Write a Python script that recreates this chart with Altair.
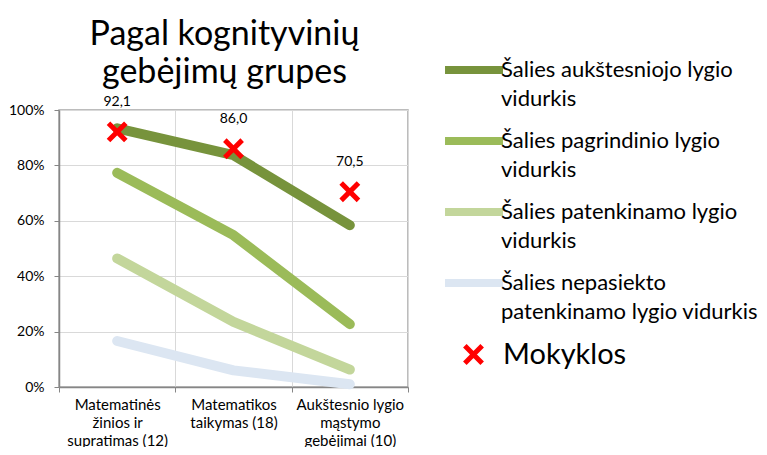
import altair as alt
import pandas as pd

categories = ["Matematinės žinios ir supratimas (12)",
              "Matematikos taikymas (18)",
              "Aukštesnio lygio mąstymo gebėjimai (10)"]
cat_lines = [["Matematinės", "žinios ir", "supratimas (12)"],
             ["Matematikos", "taikymas (18)"],
             ["Aukštesnio lygio", "mąstymo", "gebėjimai (10)"]]
series = ["Šalies aukštesniojo lygio vidurkis",
          "Šalies pagrindinio lygio vidurkis",
          "Šalies patenkinamo lygio vidurkis",
          "Šalies nepasiekto patenkinamo lygio vidurkis"]
series_lines = [["Šalies aukštesniojo lygio", "vidurkis"],
                ["Šalies pagrindinio lygio", "vidurkis"],
                ["Šalies patenkinamo lygio", "vidurkis"],
                ["Šalies nepasiekto", "patenkinamo lygio vidurkis"]]
values = [
    [93.4, 83.7, 58.4],
    [77.3, 54.8, 22.7],
    [46.4, 23.5, 6.3],
    [16.6, 6.0, 1.0],
]
colors = ["#77933C", "#9BBB59", "#C3D69B", "#DCE6F2"]
school_name = "Mokyklos"
school = [92.1, 86.0, 70.5]
school_labels = ["92,1", "86,0", "70,5"]

rows = []
for s, vals in zip(series, values):
    for c, v in zip(categories, vals):
        rows.append({"cat": c, "series": s, "value": v})
df_lines = pd.DataFrame(rows)
df_school = pd.DataFrame({"cat": categories, "value": school,
                          "label": school_labels, "group": school_name})

def js_map(keys, lines):
    parts = []
    for k, l in zip(keys, lines):
        arr = "[" + ",".join("'" + x + "'" for x in l) + "]"
        parts.append("datum.label == '" + k + "' ? " + arr)
    return " : ".join(parts) + " : datum.label"

font = "Lato"
xenc = alt.X("cat:N", sort=categories, title=None,
             scale=alt.Scale(type="band", paddingInner=0, paddingOuter=0),
             axis=alt.Axis(labelExpr=js_map(categories, cat_lines),
                           labelAngle=0, labelFontSize=15, labelFont=font,
                           labelColor="#000000", labelLineHeight=18,
                           labelPadding=5, tickBand="extent", tickSize=5,
                           tickColor="#868686", domainColor="#868686",
                           domainWidth=1.5, grid=True, gridColor="#D9D9D9",
                           labelLimit=200))
yenc = alt.Y("value:Q", title=None,
             scale=alt.Scale(domain=[0, 100], nice=False),
             axis=alt.Axis(values=list(range(0, 101, 10)),
                           labelExpr="datum.value % 20 == 0 ? datum.value + '%' : ''",
                           labelFontSize=14, labelFont=font, labelColor="#000000",
                           labelPadding=10, tickSize=5,
                           tickOpacity={"condition": {"test": "datum.value % 20 == 0", "value": 1}, "value": 0},
                           tickColor="#868686", domainColor="#868686", domainWidth=1.5,
                           grid=True, gridColor="#D9D9D9"))

x_path = "M-1,-1L1,1M1,-1L-1,1"
line_path = "M-1.26,0L1.26,0"

lines = alt.Chart(df_lines).mark_line(strokeWidth=10, strokeCap="round", strokeJoin="round").encode(
    x=xenc, y=yenc,
    color=alt.Color("series:N", sort=series,
                    scale=alt.Scale(domain=series, range=colors),
                    legend=alt.Legend(orient="none", legendX=388, legendY=-67, title=None,
                                      symbolType=line_path, symbolSize=2116,
                                      symbolStrokeWidth=8, labelFontSize=22, labelFont=font,
                                      labelColor="#000000", labelLimit=400, labelOffset=0,
                                      rowPadding=4, padding=0,
                                      labelExpr=js_map(series, series_lines))),
    detail="series:N",
)

points = alt.Chart(df_school).mark_point(shape=x_path, size=300, filled=False,
                                         stroke="#FF0000", strokeWidth=5, opacity=1).encode(
    x=alt.X("cat:N", sort=categories), y="value:Q",
    shape=alt.Shape("group:N", scale=alt.Scale(range=[x_path]),
                    legend=alt.Legend(orient="none", legendX=400, legendY=230, title=None,
                                      symbolSize=300, symbolStrokeColor="#FF0000",
                                      symbolFillColor="transparent", symbolStrokeWidth=5,
                                      labelFontSize=29, labelFont=font, labelColor="#000000",
                                      labelOffset=15, padding=0)),
)

labels = alt.Chart(df_school).mark_text(dy=-30, fontSize=14, font=font, color="#000000").encode(
    x=alt.X("cat:N", sort=categories), y="value:Q", text="label:N")

chart = alt.layer(lines, points, labels).properties(
    width=349, height=277,
    autosize=alt.AutoSizeParams(type="none"),
    padding={"left": 51, "top": 102, "right": 351, "bottom": 60},
    title=alt.TitleParams(["Pagal kognityvinių", "gebėjimų grupes"], fontSize=34, font=font,
                          fontWeight="normal", color="#000000", lineHeight=38,
                          anchor="middle", dx=-9, offset=-47),
).configure(style={"guide-label": {"lineHeight": 29}}).configure_view(stroke="#A6A6A6", strokeWidth=1.5)

chart.save("out.html", embed_options={"renderer": "svg", "actions": False})
